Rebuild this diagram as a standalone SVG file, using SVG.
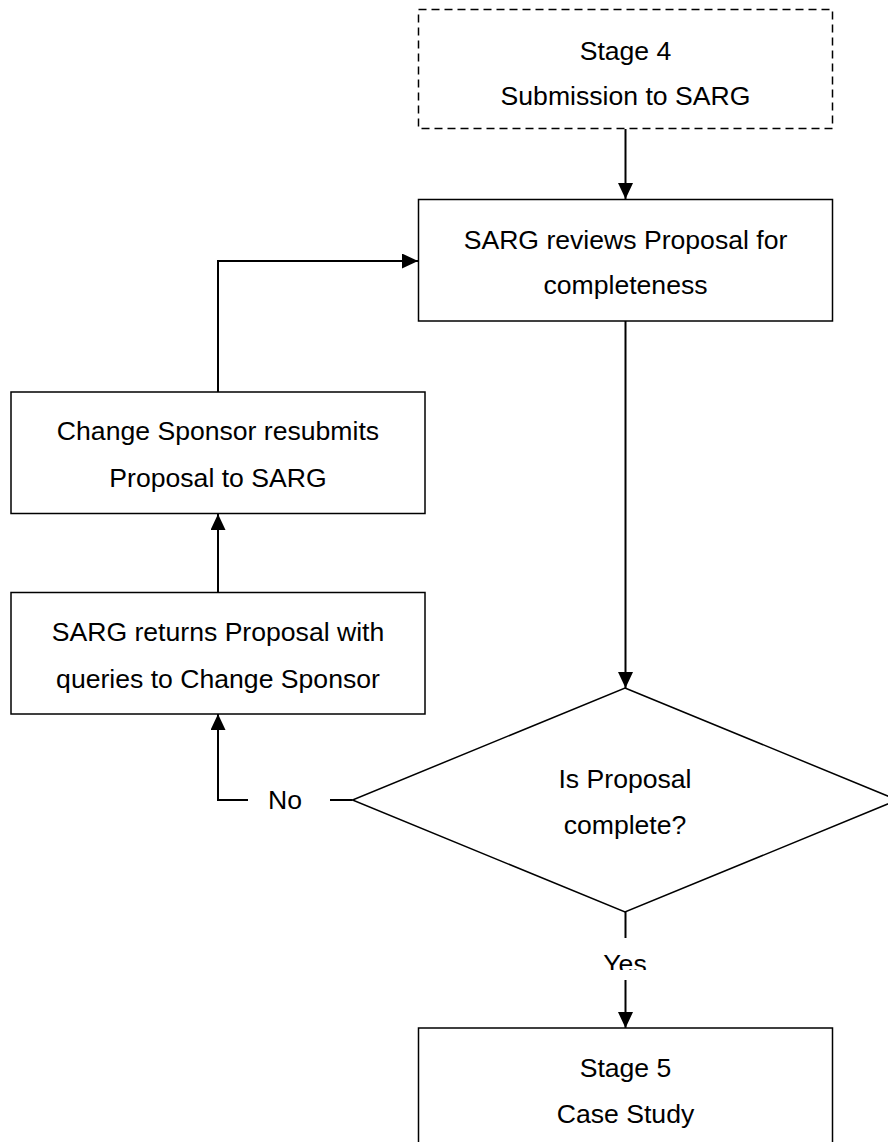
<svg xmlns="http://www.w3.org/2000/svg" width="888" height="1142" viewBox="0 0 888 1142">
  <style>
    .box { fill: #ffffff; stroke: #000000; stroke-width: 1.5; }
    .dashed { stroke-dasharray: 8 5; }
    .conn { fill: none; stroke: #000000; stroke-width: 2; }
    .label { font-family: "Liberation Sans", Arial, sans-serif; font-size: 26.6px; fill: #000000; text-anchor: middle; }
  </style>
  <defs>
    <marker id="arrow" markerUnits="userSpaceOnUse" markerWidth="16" markerHeight="15" refX="16" refY="7.5" orient="auto">
      <path d="M0,0 L16,7.5 L0,15 z" fill="#000000"/>
    </marker>
    <clipPath id="yesClip">
      <rect x="590" y="940" width="70" height="30"/>
    </clipPath>
  </defs>
  <rect width="888" height="1142" fill="#ffffff"/>

  <!-- Connectors -->
  <g id="connectors">
    <line class="conn" x1="625.5" y1="129" x2="625.5" y2="199" marker-end="url(#arrow)"/>
    <line class="conn" x1="625.5" y1="321" x2="625.5" y2="688" marker-end="url(#arrow)"/>
    <!-- No branch -->
    <line class="conn" x1="352.5" y1="800" x2="330" y2="800"/>
    <polyline class="conn" points="248,800 218,800 218,714" marker-end="url(#arrow)"/>
    <line class="conn" x1="218" y1="592" x2="218" y2="514" marker-end="url(#arrow)"/>
    <polyline class="conn" points="218,392 218,261 418,261" marker-end="url(#arrow)"/>
    <!-- Yes branch -->
    <line class="conn" x1="625.5" y1="912" x2="625.5" y2="938"/>
    <line class="conn" x1="625.5" y1="980" x2="625.5" y2="1028" marker-end="url(#arrow)"/>
    <text class="label" x="285" y="809">No</text>
    <text class="label" x="625" y="973" clip-path="url(#yesClip)">Yes</text>
  </g>

  <g id="stage4">
    <rect class="box dashed" x="418.5" y="9.5" width="414" height="119"/>
    <text class="label" x="625.5" y="60">Stage 4</text>
    <text class="label" x="625.5" y="105">Submission to SARG</text>
  </g>

  <g id="review">
    <rect class="box" x="418.5" y="199.5" width="414" height="121.5"/>
    <text class="label" x="625.5" y="248.5">SARG reviews Proposal for</text>
    <text class="label" x="625.5" y="293.5">completeness</text>
  </g>

  <g id="resubmit">
    <rect class="box" x="11" y="392" width="414" height="121.5"/>
    <text class="label" x="218" y="440">Change Sponsor resubmits</text>
    <text class="label" x="218" y="486.5">Proposal to SARG</text>
  </g>

  <g id="returns">
    <rect class="box" x="11" y="592.5" width="414" height="121.5"/>
    <text class="label" x="218" y="640.5">SARG returns Proposal with</text>
    <text class="label" x="218" y="687.5">queries to Change Sponsor</text>
  </g>

  <g id="decision">
    <polygon class="box" points="625,688 897.5,800 625,912 352.5,800"/>
    <text class="label" x="625" y="788">Is Proposal</text>
    <text class="label" x="625" y="834">complete?</text>
  </g>

  <g id="stage5">
    <rect class="box" x="418.5" y="1028" width="414" height="130"/>
    <text class="label" x="625.5" y="1076.5">Stage 5</text>
    <text class="label" x="625.5" y="1122.5">Case Study</text>
  </g>
</svg>
